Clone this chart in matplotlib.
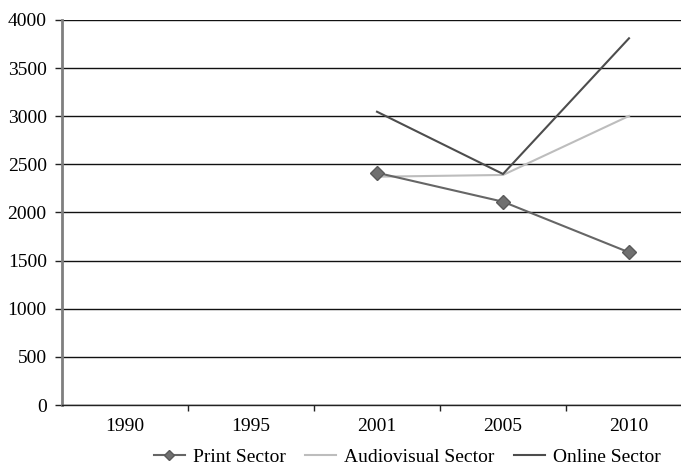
import matplotlib
matplotlib.use("Agg")
import matplotlib.pyplot as plt
import numpy as np

years = ["1990", "1995", "2001", "2005", "2010"]
print_sector = [np.nan, np.nan, 2413, 2112, 1586]
audiovisual_sector = [np.nan, np.nan, 2372, 2390, 3003]
online_sector = [np.nan, np.nan, 3047, 2400, 3810]
y_ticks = [0, 500, 1000, 1500, 2000, 2500, 3000, 3500, 4000]

plt.rcParams["font.family"] = ["Liberation Serif", "DejaVu Serif"]

fig = plt.figure(figsize=(6.81, 4.65), dpi=100)
ax = fig.add_axes([62 / 681, 1 - 405 / 465, 630 / 681, 385 / 465])

x = np.arange(len(years))
ax.plot(x, print_sector, color="#666666", lw=1.5, marker="D", ms=7,
        markerfacecolor="#707070", markeredgecolor="#5a5a5a", label="Print Sector", zorder=4)
ax.plot(x, audiovisual_sector, color="#bdbdbd", lw=1.5, label="Audiovisual Sector", zorder=3)
ax.plot(x, online_sector, color="#4d4d4d", lw=1.5, label="Online Sector", zorder=3)

ax.set_xlim(-0.5, len(years) - 0.5)
ax.set_ylim(0, 4000)
ax.set_yticks(y_ticks)
ax.set_yticklabels([str(v) for v in y_ticks], fontsize=14)
ax.set_xticks(x)
ax.set_xticklabels(years, fontsize=14)
ax.set_xticks(np.arange(0.5, len(years) - 0.5, 1.0), minor=True)
ax.tick_params(axis="x", which="major", length=0, pad=9)
ax.tick_params(axis="x", which="minor", length=4, width=1, direction="out", color="#222222")
ax.tick_params(axis="y", length=5, width=1, direction="out", color="#222222", pad=6)

ax.grid(axis="y", color="#111111", lw=1)
ax.set_axisbelow(True)
for s in ["top", "right"]:
    ax.spines[s].set_visible(False)
ax.spines["left"].set_color("#7f7f7f")
ax.spines["left"].set_linewidth(2)
ax.spines["bottom"].set_color("#222222")
ax.spines["bottom"].set_linewidth(1)

fig.legend(loc="center", bbox_to_anchor=(407 / 681, 1 - 457 / 465), ncol=3,
           frameon=False, fontsize=14, handlelength=1.6, columnspacing=1.0,
           handletextpad=0.4, markerscale=0.7)

fig.savefig("out.png", dpi=100)
